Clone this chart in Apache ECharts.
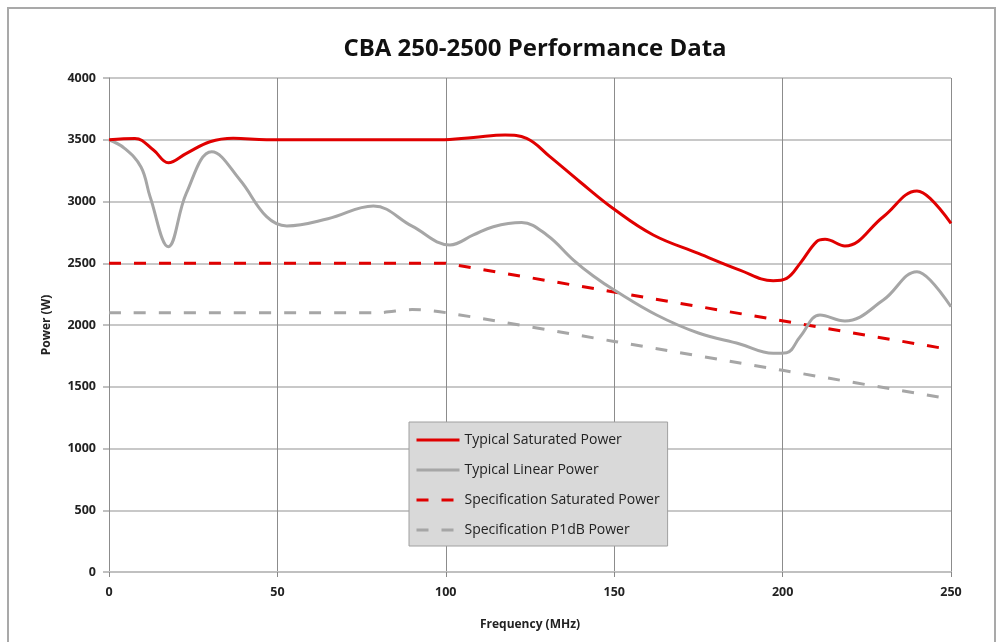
<!DOCTYPE html>
<html>
<head>
<meta charset="utf-8">
<script src="https://cdn.jsdelivr.net/npm/echarts@6/dist/echarts.min.js"></script>
<style>
html,body{margin:0;padding:0;background:#fff;}
#c{width:1001px;height:642px;}
</style>
</head>
<body>
<div id="c"></div>
<script>
// ---- data ----
const titleText = 'CBA 250-2500 Performance Data';
const seriesNames = ['Typical Saturated Power','Typical Linear Power','Specification Saturated Power','Specification P1dB Power'];
const xTicks = [0, 50, 100, 150, 200, 250];
const yTicks = [0, 500, 1000, 1500, 2000, 2500, 3000, 3500, 4000];

const satFreq = [0, 7.7, 13.2, 17.6, 23, 30, 36.9, 46.8, 60, 80, 98.3, 108.2, 117.6, 124, 130.9, 139.8, 150, 161.6, 175, 187.3, 197.2, 201.2, 205.2, 210.1, 212.6, 218.5, 229.9, 239.9, 243.8, 250];
const satVal  = [3500, 3511, 3417, 3314, 3390, 3484, 3512, 3500, 3500, 3500, 3500, 3519, 3538, 3511, 3363, 3160, 2937, 2729, 2580, 2445, 2359, 2378, 2499, 2675, 2694, 2640, 2877, 3085, 3025, 2823];

const linFreq = [0, 4.5, 9.5, 12.2, 17.6, 23, 30.5, 38.9, 46.8, 52.8, 65, 78.5, 90, 101.2, 108.2, 114.1, 122.5, 130, 137.9, 143.8, 150, 162.6, 175, 187.3, 197.2, 201.2, 205.2, 211.1, 218.5, 229.9, 239.9, 243.8, 250];
const linVal  = [3500, 3433, 3280, 3039, 2634, 3069, 3403, 3174, 2877, 2802, 2860, 2963, 2800, 2648, 2729, 2796, 2829, 2729, 2526, 2397, 2283, 2081, 1935, 1846, 1771, 1776, 1905, 2081, 2032, 2202, 2432, 2365, 2148];

const specSatFreq = [0, 100, 250];
const specSatVal  = [2500, 2500, 1800];

const p1dbFreq = [0, 80, 90, 100, 150, 200, 250];
const p1dbVal  = [2100, 2100, 2125, 2100, 1867, 1633, 1400];

const zip = (xs, ys) => xs.map((x, i) => [x, ys[i]]);

const FONT = '"Open Sans", "Noto Sans", sans-serif';
const RED = '#e00000';
const GRAY = '#a6a6a6';

const chart = echarts.init(document.getElementById('c'), null, {renderer: 'canvas'});
chart.setOption({
  backgroundColor: '#ffffff',
  animation: false,
  graphic: [{
    type: 'rect',
    shape: {x: 8, y: 8, width: 987, height: 660},
    style: {fill: 'none', stroke: '#a9a9a9', lineWidth: 2},
    silent: true, z: -10
  }],
  title: {
    text: titleText,
    left: 530, top: 32, textAlign: 'center',
    textStyle: {fontFamily: FONT, fontWeight: 'bold', fontSize: 24, color: '#111'}
  },
  grid: {left: 109, right: 50, top: 78, bottom: 70, containLabel: false},
  legend: {
    orient: 'vertical',
    left: 409, top: 422,
    backgroundColor: '#d9d9d9',
    borderColor: '#a0a0a0', borderWidth: 1,
    padding: [11, 8, 9, 6],
    itemWidth: 43, itemHeight: 14, itemGap: 16,
    itemStyle: {opacity: 0, color: 'rgba(0,0,0,0)', borderWidth: 0},
    lineStyle: {width: 3},
    textStyle: {fontFamily: FONT, fontSize: 14, color: '#222'},
    data: seriesNames
  },
  xAxis: {
    type: 'value', min: 0, max: 250, interval: 50,
    name: 'Frequency (MHz)', nameLocation: 'middle', nameGap: 47,
    nameTextStyle: {fontFamily: FONT, fontWeight: 'bold', fontSize: 12, color: '#222'},
    axisLine: {show: true, lineStyle: {color: '#c0c0c0', width: 2}},
    axisTick: {show: true, length: 5, lineStyle: {color: '#888'}},
    axisLabel: {margin: 14, fontFamily: FONT, fontWeight: 'bold', fontSize: 12.5, color: '#222', formatter: v => String(v)},
    splitLine: {show: true, lineStyle: {color: '#8c8c8c', width: 1}}
  },
  yAxis: {
    type: 'value', min: 0, max: 4000, interval: 500,
    name: 'Power (W)', nameLocation: 'middle', nameGap: 56, nameRotate: 90,
    nameTextStyle: {fontFamily: FONT, fontWeight: 'bold', fontSize: 12, color: '#222'},
    axisLine: {show: true, lineStyle: {color: '#8c8c8c', width: 1}},
    axisTick: {show: true, length: 6, lineStyle: {color: '#c0c0c0', width: 2}},
    axisLabel: {margin: 13, fontFamily: FONT, fontWeight: 'bold', fontSize: 12.5, color: '#222', formatter: v => String(v)},
    splitLine: {show: true, lineStyle: {color: '#c8c8c8', width: 2}}
  },
  series: [
    {
      name: seriesNames[3], type: 'line', data: zip(p1dbFreq, p1dbVal),
      smooth: 0.3, symbol: 'none', z: 2,
      lineStyle: {color: GRAY, width: 3, type: [12, 13]}, itemStyle: {color: GRAY}
    },
    {
      name: seriesNames[2], type: 'line', data: zip(specSatFreq, specSatVal),
      smooth: false, symbol: 'none', z: 3,
      lineStyle: {color: RED, width: 3, type: [12, 13]}, itemStyle: {color: RED}
    },
    {
      name: seriesNames[1], type: 'line', data: zip(linFreq, linVal),
      smooth: 0.4, symbol: 'none', z: 4,
      lineStyle: {color: GRAY, width: 3}, itemStyle: {color: GRAY}
    },
    {
      name: seriesNames[0], type: 'line', data: zip(satFreq, satVal),
      smooth: 0.4, symbol: 'none', z: 5,
      lineStyle: {color: RED, width: 3}, itemStyle: {color: RED}
    }
  ]
});
</script>
</body>
</html>
